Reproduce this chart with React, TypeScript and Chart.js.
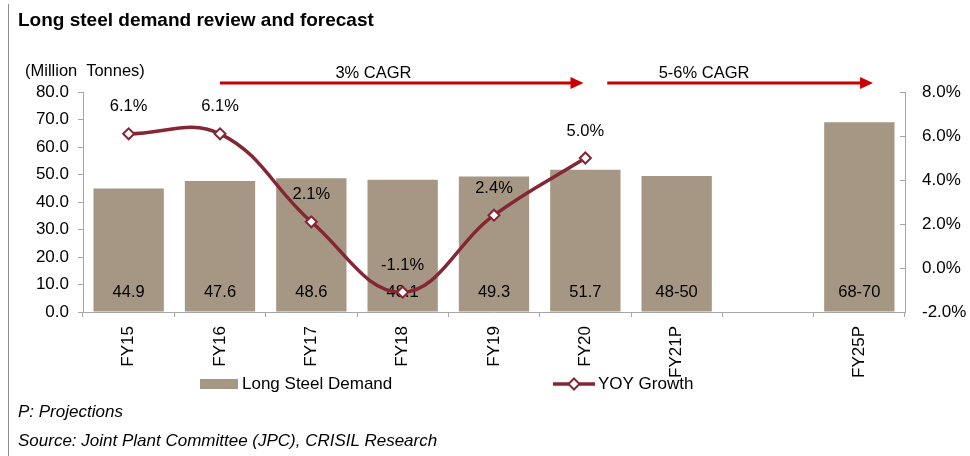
import React, { useEffect, useRef } from "react";
import { Chart, registerables } from "chart.js";

Chart.register(...registerables);

const CATEGORIES = ["FY15", "FY16", "FY17", "FY18", "FY19", "FY20", "FY21P", "", "FY25P"];
const DEMAND: (number | null)[] = [44.9, 47.6, 48.6, 48.1, 49.3, 51.7, 49.5, null, 69.0];
const DEMAND_LABELS = ["44.9", "47.6", "48.6", "48.1", "49.3", "51.7", "48-50", "", "68-70"];
const YOY: (number | null)[] = [6.1, 6.1, 2.1, -1.1, 2.4, 5.0, null, null, null];
const LEFT_MIN = 0, LEFT_MAX = 80, LEFT_STEP = 10;
const RIGHT_MIN = -2, RIGHT_MAX = 8, RIGHT_STEP = 2;
const SERIES_NAMES = ["YOY Growth", "Long Steel Demand"];
const CAGR_NOTES = [
  { text: "3% CAGR", from: 1.0, to: 4.98, textAt: 2.68 },
  { text: "5-6% CAGR", from: 5.24, to: 8.15, textAt: 6.3 },
];

const BAR_COLOR = "#A69784";
const LINE_COLOR = "#842633";
const ARROW_COLOR = "#C80000";
const AXIS_COLOR = "#A6A6A6";
const FONT = '"Liberation Sans", Arial, sans-serif';

const overlayPlugin = {
  id: "overlay",
  afterDatasetDraw(chart: any, args: any) {
    if (args.index !== 1) return;
    const ctx = chart.ctx;
    const y0 = chart.scales.y.getPixelForValue(0);
    const meta = chart.getDatasetMeta(1);
    ctx.save();
    ctx.font = `16.5px ${FONT}`;
    ctx.fillStyle = "#000";
    ctx.textAlign = "center";
    ctx.textBaseline = "middle";
    meta.data.forEach((el: any, i: number) => {
      if (DEMAND[i] == null) return;
      ctx.fillText(DEMAND_LABELS[i], el.x, y0 - 20);
    });
    ctx.restore();
  },
  afterDatasetsDraw(chart: any) {
    const ctx = chart.ctx;
    const area = chart.chartArea;
    const xs = chart.scales.x;
    const y1 = chart.scales.y1;
    ctx.save();
    ctx.font = `16.5px ${FONT}`;
    ctx.fillStyle = "#000";
    ctx.textAlign = "center";
    ctx.textBaseline = "middle";
    // line labels
    const meta = chart.getDatasetMeta(0);
    meta.data.forEach((el: any, i: number) => {
      if (YOY[i] == null) return;
      ctx.fillText((YOY[i] as number).toFixed(1) + "%", el.x, el.y - 27);
    });
    // CAGR arrows
    const ay = area.top - 9;
    CAGR_NOTES.forEach((n) => {
      const x1 = xs.getPixelForValue(n.from);
      const x2 = xs.getPixelForValue(n.to);
      ctx.strokeStyle = ARROW_COLOR;
      ctx.fillStyle = ARROW_COLOR;
      ctx.lineWidth = 3;
      ctx.beginPath();
      ctx.moveTo(x1, ay);
      ctx.lineTo(x2 - 10, ay);
      ctx.stroke();
      ctx.beginPath();
      ctx.moveTo(x2, ay);
      ctx.lineTo(x2 - 13, ay - 6);
      ctx.lineTo(x2 - 13, ay + 6);
      ctx.closePath();
      ctx.fill();
      ctx.fillStyle = "#000";
      ctx.fillText(n.text, xs.getPixelForValue(n.textAt), ay - 10);
    });
    // right axis inner ticks
    ctx.strokeStyle = AXIS_COLOR;
    ctx.lineWidth = 1;
    for (let v = RIGHT_MIN; v <= RIGHT_MAX; v += RIGHT_STEP) {
      const py = Math.round(y1.getPixelForValue(v)) + 0.5;
      ctx.beginPath();
      ctx.moveTo(area.right - 5, py);
      ctx.lineTo(area.right, py);
      ctx.stroke();
    }
    // legend
    const ly = 384;
    ctx.font = `17px ${FONT}`;
    ctx.fillStyle = BAR_COLOR;
    ctx.fillRect(200, ly - 5, 38, 10);
    ctx.fillStyle = "#000";
    ctx.textAlign = "left";
    ctx.fillText(SERIES_NAMES[1], 242, ly);
    ctx.strokeStyle = LINE_COLOR;
    ctx.lineWidth = 3.5;
    ctx.beginPath();
    ctx.moveTo(553, ly);
    ctx.lineTo(595, ly);
    ctx.stroke();
    ctx.fillStyle = "#fff";
    ctx.lineWidth = 2;
    ctx.beginPath();
    ctx.moveTo(574, ly - 5.5);
    ctx.lineTo(579.5, ly);
    ctx.lineTo(574, ly + 5.5);
    ctx.lineTo(568.5, ly);
    ctx.closePath();
    ctx.fill();
    ctx.stroke();
    ctx.fillStyle = "#000";
    ctx.fillText(SERIES_NAMES[0], 598, ly);
    ctx.restore();
  },
};

export default function App() {
  const ref = useRef<HTMLCanvasElement>(null);
  useEffect(() => {
    if (!ref.current) return;
    const chart = new Chart(ref.current, {
      type: "bar",
      data: {
        labels: CATEGORIES,
        datasets: [
          {
            type: "line",
            label: SERIES_NAMES[0],
            data: YOY,
            yAxisID: "y1",
            borderColor: LINE_COLOR,
            borderWidth: 3.5,
            tension: 0.4,
            pointStyle: "rectRot",
            pointRadius: 5.5,
            pointBackgroundColor: "#fff",
            pointBorderColor: LINE_COLOR,
            pointBorderWidth: 2,
            spanGaps: false,
          } as any,
          {
            type: "bar",
            label: SERIES_NAMES[1],
            data: DEMAND,
            yAxisID: "y",
            backgroundColor: BAR_COLOR,
            barPercentage: 0.77,
            categoryPercentage: 1,
          },
        ],
      },
      options: {
        animation: false,
        responsive: false,
        layout: { padding: { top: 92, left: 0, right: 0, bottom: 0 } },
        plugins: { legend: { display: false }, tooltip: { enabled: false } },
        scales: {
          x: {
            offset: true,
            grid: { offset: true, drawOnChartArea: false, color: AXIS_COLOR, tickLength: 5 },
            border: { color: AXIS_COLOR },
            ticks: {
              minRotation: 90,
              maxRotation: 90,
              autoSkip: false,
              padding: 9,
              color: "#000",
              font: { family: FONT, size: 17 },
            },
            afterFit: (s: any) => { s.height = 144; },
          },
          y: {
            position: "left",
            min: LEFT_MIN,
            max: LEFT_MAX,
            grid: { drawOnChartArea: false, color: AXIS_COLOR, tickLength: 5 },
            border: { color: AXIS_COLOR },
            ticks: {
              stepSize: LEFT_STEP,
              padding: 9,
              color: "#000",
              font: { family: FONT, size: 17 },
              callback: (v: any) => Number(v).toFixed(1),
            },
            afterFit: (s: any) => { s.width = 83; },
          },
          y1: {
            position: "right",
            min: RIGHT_MIN,
            max: RIGHT_MAX,
            grid: { drawOnChartArea: false, drawTicks: false, color: AXIS_COLOR },
            border: { color: AXIS_COLOR },
            ticks: {
              stepSize: RIGHT_STEP,
              padding: 17,
              color: "#000",
              font: { family: FONT, size: 17 },
              callback: (v: any) => Number(v).toFixed(1) + "%",
            },
            afterFit: (s: any) => { s.width = 65; },
          },
        },
      },
      plugins: [overlayPlugin],
    });
    return () => chart.destroy();
  }, []);

  const text: React.CSSProperties = { position: "absolute", fontFamily: FONT, color: "#000", whiteSpace: "pre", lineHeight: 1 };
  return (
    <div style={{ position: "absolute", left: 0, top: 0, width: 970, height: 456, background: "#fff", overflow: "hidden" }}>
      <canvas ref={ref} width={970} height={456} style={{ position: "absolute", left: 0, top: 0, width: 970, height: 456 }} />
      <div style={{ position: "absolute", left: 8, top: 4, width: 1, height: 452, background: "#8c8c8c" }} />
      <div style={{ ...text, left: 18, top: 10, fontSize: 19, fontWeight: "bold" }}>Long steel demand review and forecast</div>
      <div style={{ ...text, left: 25, top: 62, fontSize: 16.5 }}>(Million  Tonnes)</div>
      <div style={{ ...text, left: 18, top: 403, fontSize: 17, fontStyle: "italic" }}>P: Projections</div>
      <div style={{ ...text, left: 18, top: 432, fontSize: 17, fontStyle: "italic" }}>Source: Joint Plant Committee (JPC), CRISIL Research</div>
    </div>
  );
}
